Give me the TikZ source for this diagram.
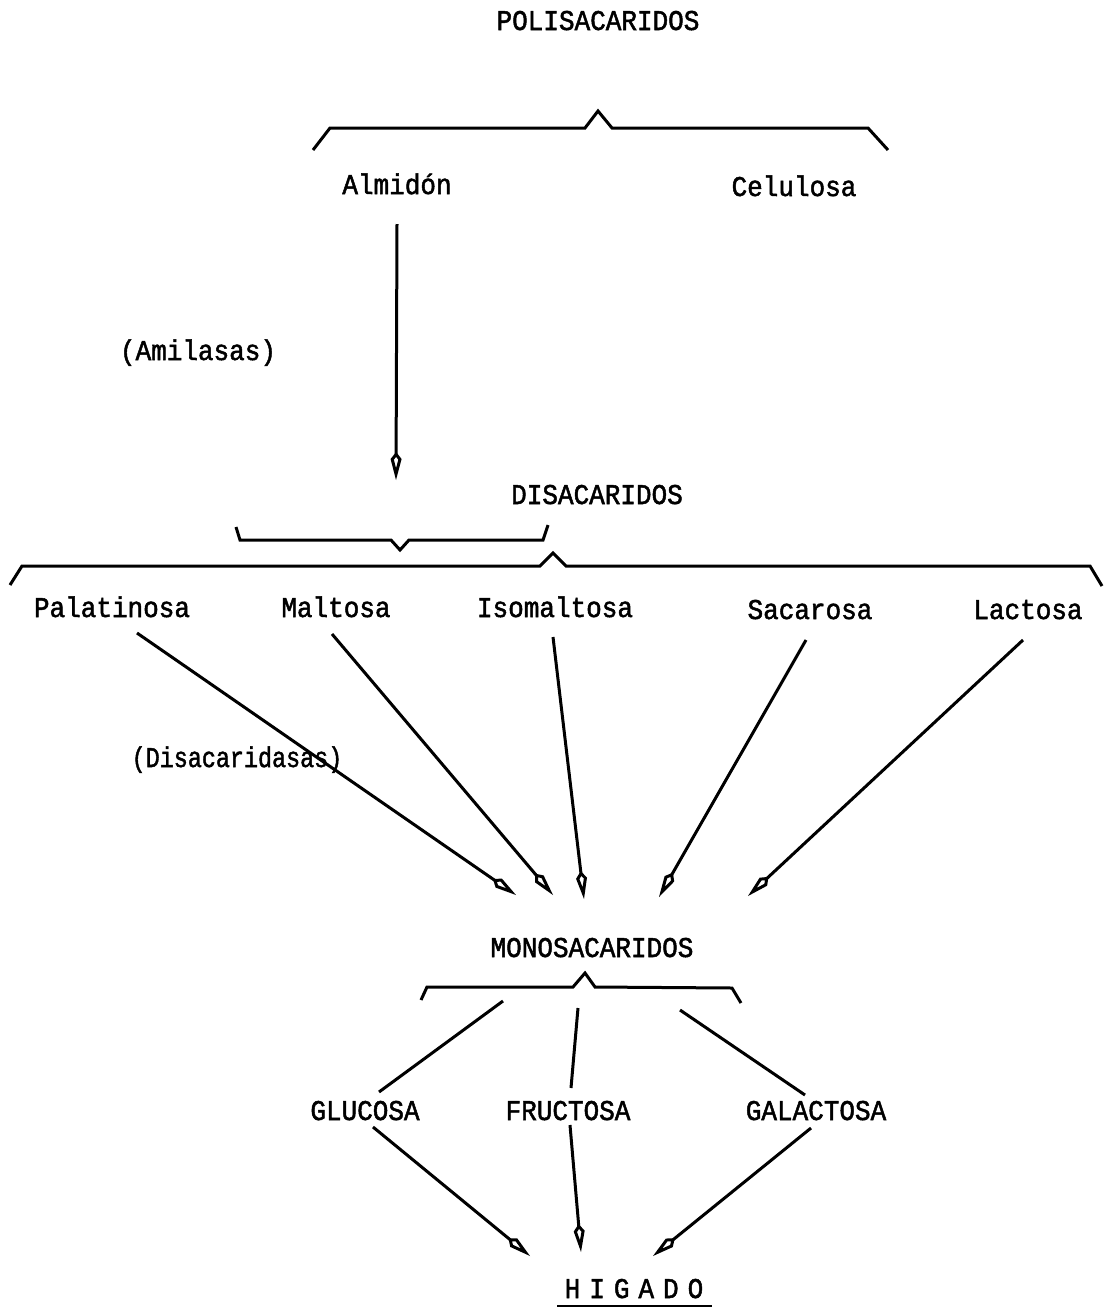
\documentclass[tikz,border=0pt]{standalone}
\usepackage{fontspec}
\newfontfamily\twfont[FakeBold=1.8]{Liberation Mono}
\usetikzlibrary{arrows.meta}
\tikzset{
  lbl/.style={font=\twfont\fontsize{26}{30}\selectfont, inner sep=0pt, anchor=base, yscale=1.1},
  wire/.style={line width=3pt, line join=miter},
  arr/.style={wire, -{Kite[open, length=28pt, width=11pt, inset=7pt]}},
}
\begin{document}
\begin{tikzpicture}[x=1pt, y=-1pt]
\useasboundingbox (0,0) rectangle (1106,1312);

% ---- polysaccharides
\node[lbl] (poli) at (598,30) {POLISACARIDOS};
\draw[wire] (313,150) -- (330,128) -- (585,128) -- (598,111) -- (612,128) -- (868,128) -- (888,150);
\node[lbl] (almidon) at (397,194) {Almidón};
\node[lbl] (celulosa) at (794,196) {Celulosa};
\node[lbl] (amilasas) at (198,360) {(Amilasas)};
\coordinate (almStart) at (397,224);
\coordinate (almTip) at (396,480);
\draw[arr] (almStart) -- (almTip);

% ---- disaccharides
\node[lbl] (disac) at (597,504) {DISACARIDOS};
\draw[wire] (236,527) -- (240,540) -- (391,540) -- (400,550) -- (409,540) -- (543,540) -- (548,525);
\draw[wire] (10,585) -- (22,566) -- (540,566) -- (553,553) -- (566,566) -- (1090,566) -- (1102,586);
\node[lbl] (palat) at (112,617) {Palatinosa};
\node[lbl] (malt) at (336,617) {Maltosa};
\node[lbl] (isomalt) at (555,617) {Isomaltosa};
\node[lbl] (sacar) at (810,619) {Sacarosa};
\node[lbl] (lact) at (1028,619) {Lactosa};
\node[lbl, xscale=0.9] (disacaridasas) at (237,767) {(Disacaridasas)};

\coordinate (pS) at (137,633);  \coordinate (pE) at (516,895);
\coordinate (mS) at (332,634);  \coordinate (mE) at (553,895);
\coordinate (iS) at (553,637);  \coordinate (iE) at (584,899);
\coordinate (sS) at (806,640);  \coordinate (sE) at (659,897);
\coordinate (lS) at (1023,640); \coordinate (lE) at (748,896);
\draw[arr] (pS) -- (pE);
\draw[arr] (mS) -- (mE);
\draw[arr] (iS) -- (iE);
\draw[arr] (sS) -- (sE);
\draw[arr] (lS) -- (lE);

% ---- monosaccharides
\node[lbl] (monosac) at (592,957) {MONOSACARIDOS};
\draw[wire] (421,1000) -- (427,987) -- (573,987) -- (585,973) -- (595,987) -- (732,988) -- (741,1003);
\node[lbl] (glucosa) at (365,1120) {GLUCOSA};
\node[lbl] (fructosa) at (568,1120) {FRUCTOSA};
\node[lbl] (galactosa) at (816,1120) {GALACTOSA};

\coordinate (gA) at (503,1001);  \coordinate (gB) at (379,1092);
\coordinate (fA) at (578,1008);  \coordinate (fB) at (571,1088);
\coordinate (hA) at (680,1010);  \coordinate (hB) at (805,1095);
\draw[wire] (gA) -- (gB);
\draw[wire] (fA) -- (fB);
\draw[wire] (hA) -- (hB);

% ---- liver
\node[lbl] (higado) at (634,1298) {\spaceskip=9pt H I G A D O};
\coordinate (gluS) at (373,1127); \coordinate (gluE) at (530,1256);
\coordinate (fruS) at (570,1125); \coordinate (fruE) at (581,1252);
\coordinate (galS) at (811,1128); \coordinate (galE) at (653,1256);
\draw[arr] (gluS) -- (gluE);
\draw[arr] (fruS) -- (fruE);
\draw[arr] (galS) -- (galE);
\draw[line width=2.6pt] (557,1306) -- (712,1306);
\end{tikzpicture}
\end{document}
